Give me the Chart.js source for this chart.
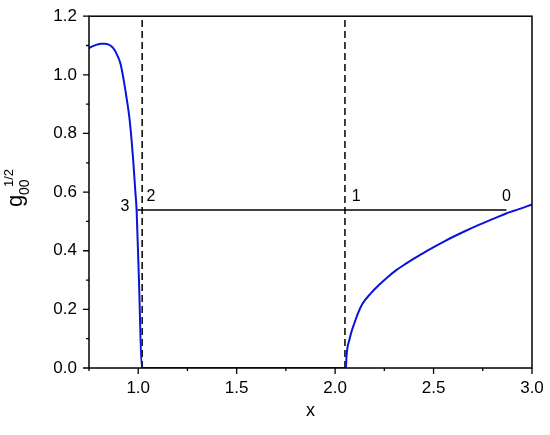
<!DOCTYPE html>
<html>
<head>
<meta charset="utf-8">
<script src="https://cdn.jsdelivr.net/npm/chart.js@4"></script>
<style>
  html, body { margin: 0; padding: 0; background: #fff; }
  #wrap { width: 550px; height: 435px; position: relative; }
</style>
</head>
<body>
<div id="wrap"><canvas id="myChart"></canvas></div>
<script>
// blue curve g00^(1/2) vs x
const curveX = [0.75, 0.77, 0.79, 0.81, 0.83, 0.85, 0.865, 0.88, 0.895, 0.91, 0.925, 0.94, 0.955, 0.965, 0.975, 0.985, 0.992, 1.005, 1.018,
                1.3, 1.6, 1.9, 2.055, 2.058, 2.063, 2.072, 2.085, 2.097, 2.115, 2.139, 2.18, 2.224, 2.265, 2.309, 2.36, 2.40, 2.44, 2.478,
                2.56, 2.648, 2.73, 2.818, 2.868, 2.93, 3.0];
const curveY = [1.091, 1.098, 1.103, 1.106, 1.106, 1.103, 1.097, 1.085, 1.065, 1.038, 0.987, 0.925, 0.855, 0.787, 0.705, 0.605, 0.536, 0.27, 0.0,
                0.0, 0.0, 0.0, 0.0, 0.04, 0.07, 0.095, 0.128, 0.151, 0.185, 0.219, 0.254, 0.284, 0.309, 0.333, 0.356, 0.373, 0.389, 0.404,
                0.434, 0.463, 0.488, 0.513, 0.527, 0.541, 0.558];

// horizontal level line and dashed vertical markers
const levelX = [0.996, 2.87];
const levelY = [0.539, 0.539];
const markerX = [1.02, 2.05];

// numbered points
const pointLabels = ['3', '2', '1', '0'];
const labelX = [0.933, 1.065, 2.107, 2.87];
const labelY = [0.549, 0.583, 0.583, 0.586];

// axes
const xMin = 0.75, xMax = 3.0, xStep = 0.25;
const yMin = 0.0, yMax = 1.2, yStep = 0.1;

const FONT = '"Liberation Sans", Arial, sans-serif';

function toPoints(xs, ys) {
    return xs.map((x, i) => ({ x: x, y: ys[i] }));
}

const isMultiple = (v, m) => Math.abs(v / m - Math.round(v / m)) < 1e-6;

const datasets = [
    {
        data: toPoints(curveX, curveY),
        borderColor: '#0a14d8',
        borderWidth: 2,
        pointRadius: 0,
        cubicInterpolationMode: 'monotone'
    },
    {
        data: toPoints(levelX, levelY),
        borderColor: '#000',
        borderWidth: 1.5,
        pointRadius: 0
    }
];
markerX.forEach(mx => {
    datasets.push({
        data: [{ x: mx, y: yMin }, { x: mx, y: yMax }],
        borderColor: '#000',
        borderWidth: 1.5,
        borderDash: [7, 4],
        pointRadius: 0
    });
});

const decorPlugin = {
    id: 'decor',
    afterDraw(chart) {
        const ctx = chart.ctx;
        const a = chart.chartArea;
        const xs = chart.scales.x, ys = chart.scales.y;
        ctx.save();
        // frame
        ctx.strokeStyle = '#000';
        ctx.lineWidth = 1.5;
        ctx.strokeRect(a.left, a.top, a.right - a.left, a.bottom - a.top);
        // ticks, outside, major long / minor short
        ctx.lineWidth = 1.3;
        ctx.beginPath();
        xs.ticks.forEach(t => {
            const px = xs.getPixelForValue(t.value);
            const len = isMultiple(t.value, 0.5) ? 6 : 3;
            ctx.moveTo(px, a.bottom);
            ctx.lineTo(px, a.bottom + len);
        });
        ys.ticks.forEach(t => {
            const py = ys.getPixelForValue(t.value);
            const len = isMultiple(t.value, 0.2) ? 6 : 3;
            ctx.moveTo(a.left, py);
            ctx.lineTo(a.left - len, py);
        });
        ctx.stroke();
        // point numbers
        ctx.fillStyle = '#000';
        ctx.font = '16px ' + FONT;
        ctx.textAlign = 'center';
        ctx.textBaseline = 'middle';
        pointLabels.forEach((s, i) => {
            ctx.fillText(s, xs.getPixelForValue(labelX[i]), ys.getPixelForValue(labelY[i]));
        });
        // y title: g_00^{1/2}, rotated
        ctx.translate(22, 207);
        ctx.rotate(-Math.PI / 2);
        ctx.textAlign = 'left';
        ctx.textBaseline = 'alphabetic';
        ctx.font = '22px ' + FONT;
        ctx.fillText('g', 0, 0);
        ctx.font = '14px ' + FONT;
        ctx.fillText('00', 12, 7);
        ctx.font = '13px ' + FONT;
        ctx.fillText('1/2', 20, -9);
        ctx.restore();
    }
};

const ctx = document.getElementById('myChart').getContext('2d');
const myChart = new Chart(ctx, {
    type: 'scatter',
    data: { datasets: datasets },
    options: {
        responsive: true,
        maintainAspectRatio: false,
        animation: false,
        showLine: true,
        layout: { padding: { left: 0, right: 18, top: 14, bottom: 0 } },
        plugins: {
            legend: { display: false },
            tooltip: { enabled: false }
        },
        scales: {
            x: {
                type: 'linear',
                min: xMin,
                max: xMax,
                afterFit: s => { s.height = 67; },
                grid: { display: true, drawOnChartArea: false, color: 'rgba(0,0,0,0)', tickLength: 6 },
                border: { display: false },
                ticks: {
                    stepSize: xStep,
                    autoSkip: false,
                    maxRotation: 0,
                    padding: 4,
                    color: '#000',
                    font: { size: 17, family: FONT },
                    callback: v => (isMultiple(v, 0.5) && v > xMin + 1e-6) ? v.toFixed(1) : ''
                },
                title: {
                    display: true,
                    text: 'x',
                    color: '#000',
                    font: { size: 18, family: FONT },
                    padding: { top: 0, bottom: 13 }
                }
            },
            y: {
                type: 'linear',
                min: yMin,
                max: yMax,
                afterFit: s => { s.width = 89; },
                grid: { display: true, drawOnChartArea: false, color: 'rgba(0,0,0,0)', tickLength: 6 },
                border: { display: false },
                ticks: {
                    stepSize: yStep,
                    autoSkip: false,
                    padding: 6,
                    color: '#000',
                    font: { size: 17, family: FONT },
                    callback: v => isMultiple(v, 0.2) ? v.toFixed(1) : ''
                }
            }
        }
    },
    plugins: [decorPlugin]
});
</script>
</body>
</html>
